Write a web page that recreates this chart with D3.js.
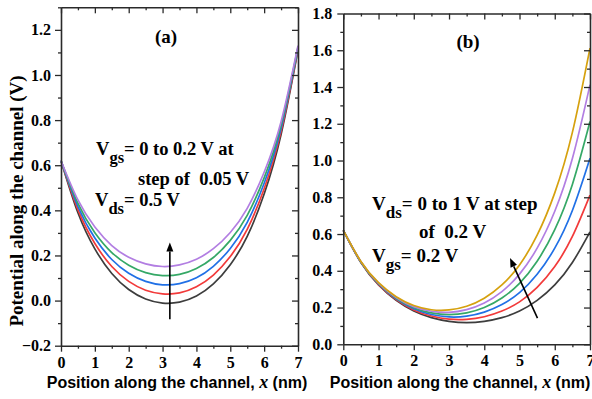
<!DOCTYPE html>
<html>
<head>
<meta charset="utf-8">
<script src="https://cdn.jsdelivr.net/npm/d3@7"></script>
<style>
  html, body { margin: 0; padding: 0; background: #fff; }
  svg { display: block; }
  .tick text { font-family: "Liberation Serif", "Times New Roman", serif; font-weight: bold; font-size: 16px; fill: #000; }
  .note { font-family: "Liberation Serif", "Times New Roman", serif; font-weight: bold; fill: #000; white-space: pre; }
  .xlab { font-family: "Liberation Sans", Arial, sans-serif; font-weight: bold; font-size: 16px; fill: #000; }
  .ylab { font-family: "Liberation Serif", "Times New Roman", serif; font-weight: bold; font-size: 19px; fill: #000; }
</style>
</head>
<body>
<svg id="chart" width="592" height="399"></svg>
<script>
// Position along the channel (nm) shared by every curve
const positionNm = [0, 0.5, 1, 1.5, 2, 2.5, 3, 3.5, 4, 4.5, 5, 5.5, 6, 6.5, 7];

// Panel (a): Vds = 0.5 V, Vgs swept 0 .. 0.2 V
const vgsLabels = ["0", "0.05", "0.10", "0.15", "0.20"];
const phiVgs000 = [0.62, 0.389, 0.229, 0.120, 0.049, 0.007, -0.011, -0.007, 0.020, 0.074, 0.159, 0.285, 0.472, 0.736, 1.110];
const phiVgs005 = [0.62, 0.403, 0.253, 0.151, 0.085, 0.046, 0.030, 0.034, 0.061, 0.113, 0.195, 0.316, 0.496, 0.750, 1.115];
const phiVgs010 = [0.62, 0.417, 0.277, 0.182, 0.121, 0.085, 0.070, 0.075, 0.101, 0.152, 0.231, 0.347, 0.520, 0.764, 1.120];
const phiVgs015 = [0.62, 0.431, 0.301, 0.213, 0.157, 0.124, 0.111, 0.116, 0.142, 0.191, 0.267, 0.378, 0.544, 0.778, 1.125];
const phiVgs020 = [0.62, 0.446, 0.326, 0.244, 0.192, 0.163, 0.151, 0.158, 0.183, 0.230, 0.302, 0.409, 0.569, 0.793, 1.130];

// Panel (b): Vgs = 0.2 V, Vds swept 0 .. 1 V
const vdsLabels = ["0", "0.2", "0.4", "0.6", "0.8", "1.0"];
const phiVds00 = [0.62, 0.445, 0.323, 0.239, 0.181, 0.145, 0.125, 0.118, 0.125, 0.145, 0.181, 0.239, 0.323, 0.445, 0.612];
const phiVds02 = [0.62, 0.446, 0.325, 0.243, 0.187, 0.154, 0.137, 0.136, 0.150, 0.181, 0.231, 0.310, 0.423, 0.587, 0.812];
const phiVds04 = [0.62, 0.447, 0.328, 0.247, 0.193, 0.162, 0.149, 0.153, 0.175, 0.216, 0.281, 0.381, 0.523, 0.728, 1.012];
const phiVds06 = [0.62, 0.448, 0.330, 0.251, 0.199, 0.171, 0.162, 0.171, 0.200, 0.252, 0.332, 0.452, 0.624, 0.870, 1.212];
const phiVds08 = [0.62, 0.450, 0.333, 0.255, 0.205, 0.180, 0.174, 0.189, 0.225, 0.287, 0.382, 0.523, 0.724, 1.011, 1.412];
const phiVds10 = [0.62, 0.451, 0.335, 0.259, 0.211, 0.188, 0.187, 0.207, 0.251, 0.323, 0.432, 0.594, 0.824, 1.153, 1.612];

// Tick values
const xTicks = [0, 1, 2, 3, 4, 5, 6, 7];
const xMinor = [0.5, 1.5, 2.5, 3.5, 4.5, 5.5, 6.5];
const yTicksA = [-0.2, 0, 0.2, 0.4, 0.6, 0.8, 1.0, 1.2];
const yMinorA = [-0.1, 0.1, 0.3, 0.5, 0.7, 0.9, 1.1, 1.3];
const yTicksB = [0, 0.2, 0.4, 0.6, 0.8, 1.0, 1.2, 1.4, 1.6, 1.8];
const yMinorB = [0.1, 0.3, 0.5, 0.7, 0.9, 1.1, 1.3, 1.5, 1.7];

const curveColors = ["#3d3d3d", "#f23a3a", "#2070e6", "#35a866", "#b27ee2", "#d6a10e"];

const svg = d3.select("#chart");

function buildPanel(opt) {
  const x = d3.scaleLinear().domain([0, 7]).range([opt.left, opt.right]);
  const y = d3.scaleLinear().domain(opt.yDomain).range([opt.bottom, opt.top]);
  const g = svg.append("g");
  const fmt = d3.format(".1f");

  // curves
  const line = d3.line().x(d => x(d[0])).y(d => y(d[1])).curve(d3.curveNatural);
  opt.series.forEach((vals, i) => {
    g.append("path")
      .datum(positionNm.map((p, j) => [p, vals[j]]))
      .attr("fill", "none")
      .attr("stroke", curveColors[i])
      .attr("stroke-width", 1.7)
      .attr("d", line);
  });

  const axisStyle = sel => {
    sel.select(".domain").attr("stroke", "#2a2a2a").attr("stroke-width", 1.6);
    sel.selectAll(".tick line").attr("stroke", "#2a2a2a").attr("stroke-width", 1.3);
  };

  // bottom axis: labelled majors + minors
  g.append("g").attr("transform", `translate(0,${opt.bottom})`)
    .call(d3.axisBottom(x).tickValues(xTicks).tickSize(6).tickSizeOuter(0).tickFormat(d3.format("d")))
    .call(axisStyle)
    .call(s => s.selectAll("text").attr("y", 22).attr("dy", 0));
  g.append("g").attr("transform", `translate(0,${opt.bottom})`)
    .call(d3.axisBottom(x).tickValues(xMinor).tickSize(3).tickFormat(""))
    .call(axisStyle).call(s => s.select(".domain").remove());

  // top axis (mirror, ticks inward)
  g.append("g").attr("transform", `translate(0,${opt.top})`)
    .call(d3.axisTop(x).tickValues(xTicks).tickSize(-6).tickSizeOuter(0).tickFormat(""))
    .call(axisStyle);
  g.append("g").attr("transform", `translate(0,${opt.top})`)
    .call(d3.axisTop(x).tickValues(xMinor).tickSize(-3).tickFormat(""))
    .call(axisStyle).call(s => s.select(".domain").remove());

  // left axis
  g.append("g").attr("transform", `translate(${opt.left},0)`)
    .call(d3.axisLeft(y).tickValues(opt.yTicks).tickSize(6).tickSizeOuter(0).tickFormat(fmt))
    .call(axisStyle)
    .call(s => s.selectAll("text").attr("x", -opt.labelGap));
  g.append("g").attr("transform", `translate(${opt.left},0)`)
    .call(d3.axisLeft(y).tickValues(opt.yMinor).tickSize(3).tickFormat(""))
    .call(axisStyle).call(s => s.select(".domain").remove());

  // right axis (mirror, ticks inward)
  g.append("g").attr("transform", `translate(${opt.right},0)`)
    .call(d3.axisRight(y).tickValues(opt.yTicks).tickSize(-6).tickSizeOuter(0).tickFormat(""))
    .call(axisStyle);
  g.append("g").attr("transform", `translate(${opt.right},0)`)
    .call(d3.axisRight(y).tickValues(opt.yMinor).tickSize(-3).tickFormat(""))
    .call(axisStyle).call(s => s.select(".domain").remove());

  // panel tag
  g.append("text").attr("class", "note").attr("font-size", 19)
    .attr("x", opt.tag.x).attr("y", opt.tag.y).attr("text-anchor", "middle").text(opt.tag.text);

  // x-axis title
  const xt = g.append("text").attr("class", "xlab")
    .attr("x", opt.xTitleX).attr("y", 388).attr("text-anchor", "middle");
  xt.append("tspan").text("Position along the channel, ");
  xt.append("tspan").attr("font-family", "Liberation Serif, serif").attr("font-style", "italic")
    .attr("font-size", 18).text("x");
  xt.append("tspan").text(" (nm)");

  // sweep arrow
  const a0 = [x(opt.arrow[0][0]), y(opt.arrow[0][1])];
  const a1 = [x(opt.arrow[1][0]), y(opt.arrow[1][1])];
  const ang = Math.atan2(a1[1] - a0[1], a1[0] - a0[0]);
  const headLen = 9, headW = 3.5;
  const base = [a1[0] - headLen * Math.cos(ang), a1[1] - headLen * Math.sin(ang)];
  g.append("line").attr("x1", a0[0]).attr("y1", a0[1]).attr("x2", base[0]).attr("y2", base[1])
    .attr("stroke", "#000").attr("stroke-width", 1.6);
  g.append("path")
    .attr("d", `M${a1[0]},${a1[1]}L${base[0] + headW * Math.sin(ang)},${base[1] - headW * Math.cos(ang)}L${base[0] - headW * Math.sin(ang)},${base[1] + headW * Math.cos(ang)}Z`)
    .attr("fill", "#000");

  return { g, x, y };
}

function noteLine(g, xPos, yPos, size, parts) {
  const t = g.append("text").attr("class", "note").attr("font-size", size).attr("x", xPos).attr("y", yPos);
  parts.forEach(p => {
    if (p.sub) {
      t.append("tspan").attr("font-size", size - 2).attr("dy", 8).text(p.sub);
    } else {
      t.append("tspan").attr("dy", p.after ? -8 : 0).text(p.text);
    }
  });
}

const panelA = buildPanel({
  left: 61, right: 298, top: 7.3, bottom: 345.7,
  yDomain: [-0.2, 1.3], yTicks: yTicksA, yMinor: yMinorA, labelGap: 10,
  series: [phiVgs000, phiVgs005, phiVgs010, phiVgs015, phiVgs020],
  tag: { x: 166, y: 43, text: "(a)" },
  xTitleX: 177,
  arrow: [[3.215, -0.083], [3.215, 0.258]]
});
noteLine(panelA.g, 96, 155, 18.5, [{ text: "V" }, { sub: "gs" }, { text: "= 0 to 0.2 V at", after: true }]);
noteLine(panelA.g, 138, 185, 18.5, [{ text: "step of  0.05 V" }]);
noteLine(panelA.g, 95, 206, 18.5, [{ text: "V" }, { sub: "ds" }, { text: "= 0.5 V", after: true }]);

const panelB = buildPanel({
  left: 343.3, right: 590, top: 13.5, bottom: 344.3,
  yDomain: [0, 1.8], yTicks: yTicksB, yMinor: yMinorB, labelGap: 11,
  series: [phiVds00, phiVds02, phiVds04, phiVds06, phiVds08, phiVds10],
  tag: { x: 468, y: 48, text: "(b)" },
  xTitleX: 460,
  arrow: [[5.51, 0.142], [4.73, 0.469]]
});
noteLine(panelB.g, 372, 210, 19, [{ text: "V" }, { sub: "ds" }, { text: "= 0 to 1 V at step", after: true }]);
noteLine(panelB.g, 419, 238, 19, [{ text: "of  0.2 V" }]);
noteLine(panelB.g, 372, 262, 19, [{ text: "V" }, { sub: "gs" }, { text: "= 0.2 V", after: true }]);

// shared y-axis title
svg.append("text").attr("class", "ylab")
  .attr("transform", "translate(23,201) rotate(-90)")
  .attr("text-anchor", "middle")
  .text("Potential along the channel (V)");
</script>
</body>
</html>
